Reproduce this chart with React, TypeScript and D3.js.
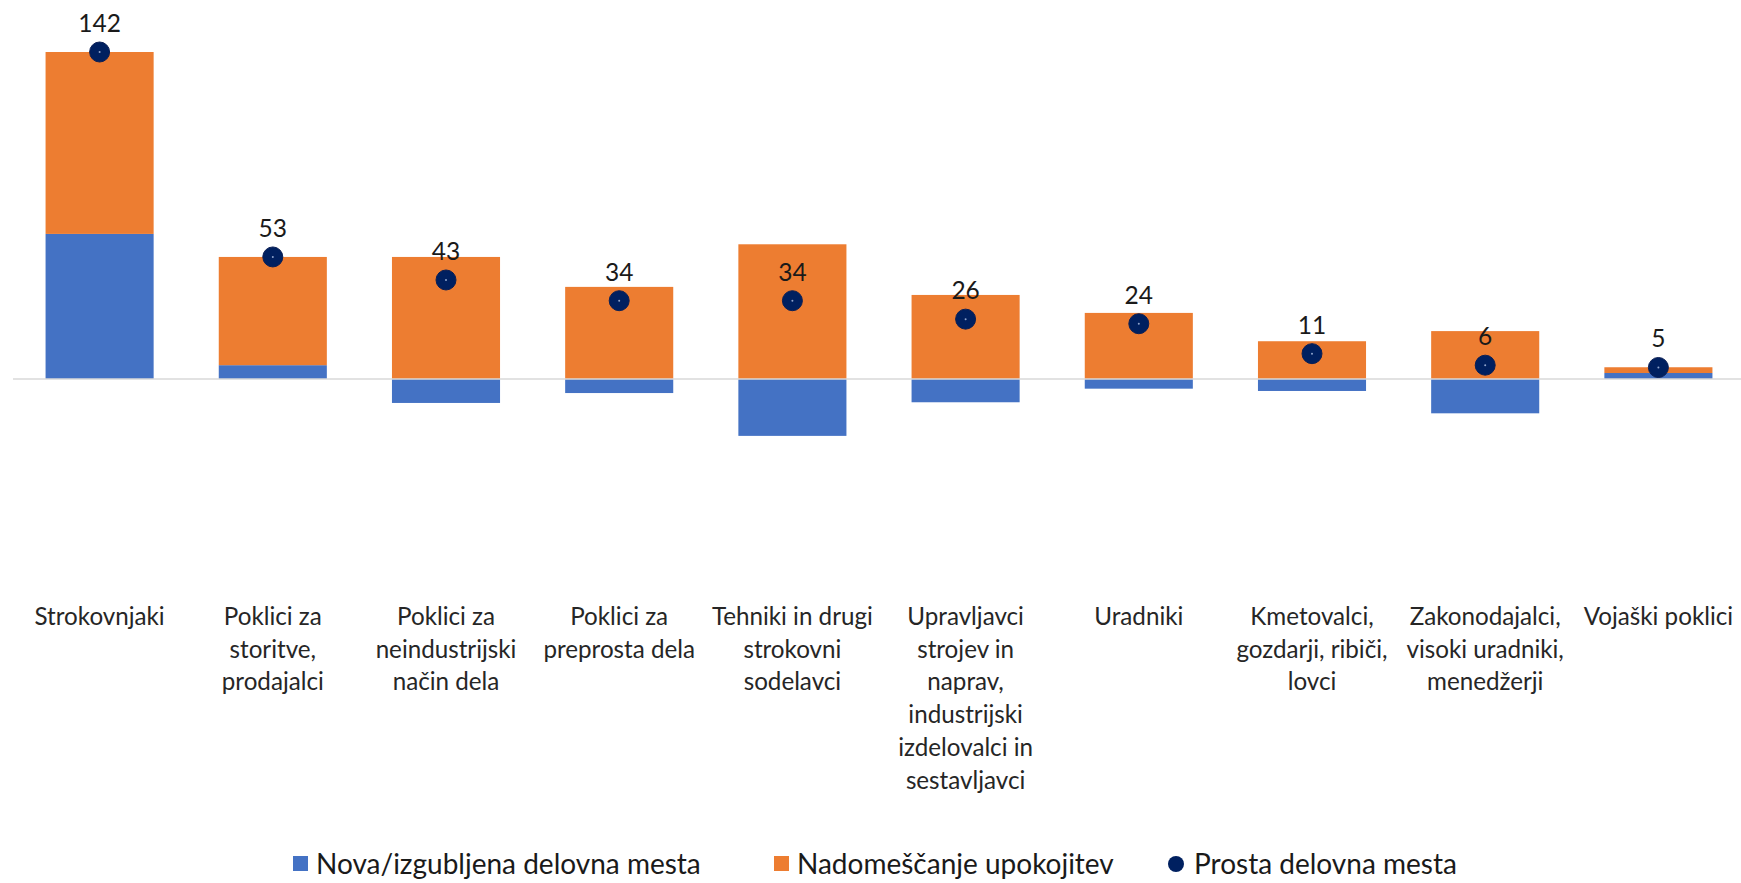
import React from 'react'
import * as d3 from 'd3'

// categories (line breaks as in the picture)
const categories = [
  'Strokovnjaki',
  'Poklici za\nstoritve,\nprodajalci',
  'Poklici za\nneindustrijski\nnačin dela',
  'Poklici za\npreprosta dela',
  'Tehniki in drugi\nstrokovni\nsodelavci',
  'Upravljavci\nstrojev in\nnaprav,\nindustrijski\nizdelovalci in\nsestavljavci',
  'Uradniki',
  'Kmetovalci,\ngozdarji, ribiči,\nlovci',
  'Zakonodajalci,\nvisoki uradniki,\nmenedžerji',
  'Vojaški poklici',
]

// Nova/izgubljena delovna mesta
const novaValues = [63, 6, -10.4, -6.1, -24.7, -10.1, -4.2, -5.2, -14.9, 2.6]
// Nadomeščanje upokojitev
const nadomValues = [79, 47, 53, 40, 58.5, 36.5, 28.7, 16.4, 20.8, 2.5]
// Prosta delovna mesta
const prostaValues = [142, 53, 43, 34, 34, 26, 24, 11, 6, 5]

const legendLabels = ['Nova/izgubljena delovna mesta', 'Nadomeščanje upokojitev', 'Prosta delovna mesta']

const blue = '#4472C4'
const orange = '#ED7D31'
const navy = '#002060'
const font = 'Lato, "Open Sans", sans-serif'

const width = 1741
const height = 883

const App = () => {
  const rows = categories.map((c, i) => ({ cat: c, nova: novaValues[i], nadom: nadomValues[i] }))

  const x = d3.scaleBand()
    .domain(categories)
    .range([13, 1745])
    .paddingInner(0.376)
    .paddingOuter(0.188)

  // zero line at 379, 142 at 52
  const y = d3.scaleLinear().domain([0, 142]).range([379, 52])

  const stacked = d3.stack<any>()
    .keys(['nova', 'nadom'])
    .offset(d3.stackOffsetDiverging)(rows)

  const colors = [blue, orange]

  const legendX = [293, 774, 1168]

  return (
    <div style={{ position: 'absolute', left: 0, top: 0 }}>
      <svg width={width} height={height} style={{ display: 'block', background: '#fff' }}>
        {/* bars */}
        {stacked.map((s, si) => (
          <g key={si} fill={colors[si]}>
            {s.map((d, i) => (
              <rect
                key={i}
                x={x(categories[i])}
                width={x.bandwidth()}
                y={y(Math.max(d[0], d[1]))}
                height={Math.abs(y(d[0]) - y(d[1]))}
              />
            ))}
          </g>
        ))}

        {/* zero line */}
        <line x1={13} x2={width} y1={y(0)} y2={y(0)} stroke="#d9d9d9" strokeWidth={1.5} />

        {/* dots and value labels */}
        {prostaValues.map((v, i) => {
          const cx = x(categories[i])! + x.bandwidth() / 2
          return (
            <g key={i}>
              <circle cx={cx} cy={y(v)} r={10} fill={navy} stroke="#0b1f55" strokeWidth={1} />
              <circle cx={cx} cy={y(v)} r={1} fill="#8fa4cc" />
              <text x={cx} y={y(v) - 20} textAnchor="middle" fontFamily={font} fontSize={24.5} fill="#1a1a1a">
                {v}
              </text>
            </g>
          )
        })}

        {/* category labels */}
        {categories.map((c, i) => {
          const cx = x(c)! + x.bandwidth() / 2
          return (
            <text key={i} x={cx} y={625} textAnchor="middle" fontFamily={font} fontSize={24.2} fill="#262626">
              {c.split('\n').map((line, li) => (
                <tspan key={li} x={cx} dy={li === 0 ? 0 : 32.7}>{line}</tspan>
              ))}
            </text>
          )
        })}

        {/* legend */}
        {legendLabels.map((l, i) => (
          <g key={i} transform={`translate(${legendX[i]},864)`}>
            {i < 2 ? (
              <rect x={0} y={-8} width={15} height={15} fill={colors[i]} />
            ) : (
              <circle cx={8} cy={0} r={8} fill={navy} />
            )}
            <text x={i < 2 ? 23 : 26} y={10} fontFamily={font} fontSize={28} fill="#1a1a1a">{l}</text>
          </g>
        ))}
      </svg>
    </div>
  )
}

export default App
